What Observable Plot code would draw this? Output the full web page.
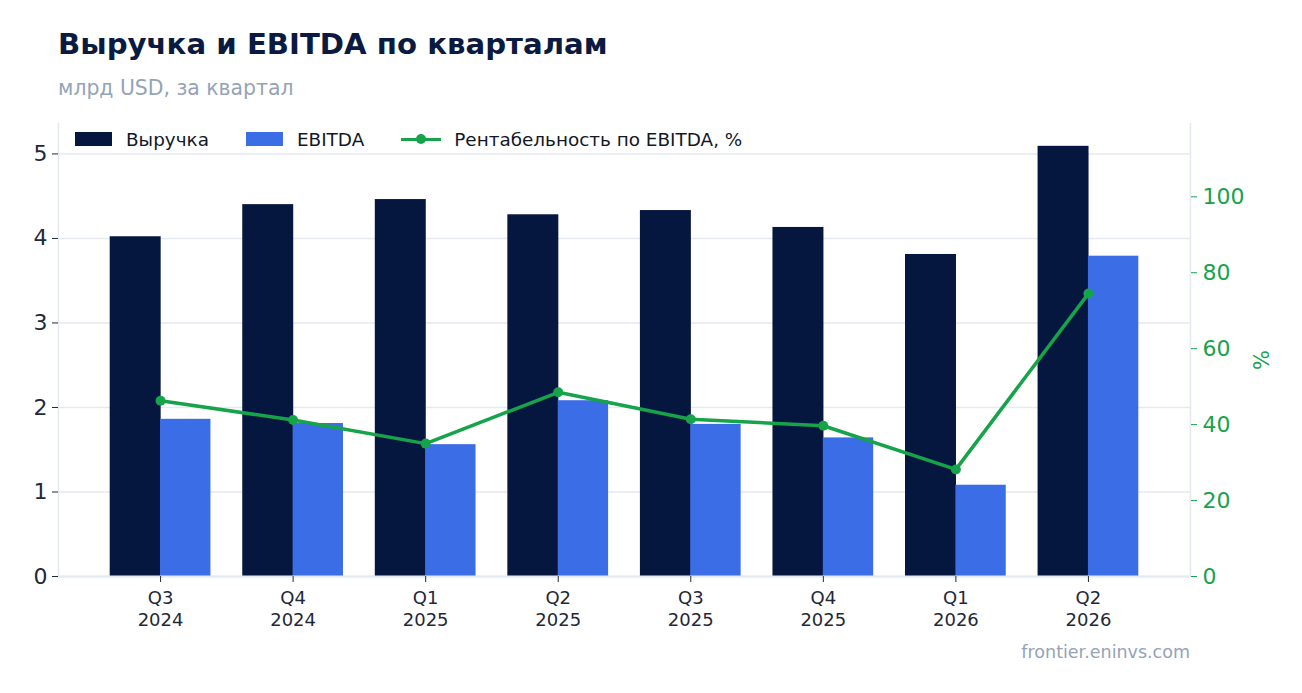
<!DOCTYPE html>
<html>
<head>
<meta charset="utf-8">
<script src="https://cdn.jsdelivr.net/npm/d3@7"></script>
<script src="https://cdn.jsdelivr.net/npm/@observablehq/plot@0.6"></script>
<style>
  html, body { margin: 0; padding: 0; background: #ffffff; }
  body { width: 1302px; height: 693px; position: relative; overflow: hidden; font-family: "DejaVu Sans", sans-serif; }
  #title { position: absolute; left: 58px; top: 26px; font-size: 29.2px; font-weight: bold; color: #0b1a40; line-height: 36px; white-space: nowrap; }
  #subtitle { position: absolute; left: 58px; top: 75px; font-size: 20.4px; color: #94a3b8; line-height: 26px; white-space: nowrap; }
  #chart { position: absolute; left: 0; top: 110px; }
  #legend { position: absolute; left: 75px; top: 127px; height: 24px; display: flex; align-items: center; font-size: 18.4px; color: #111827; white-space: nowrap; }
  .item { display: flex; align-items: center; margin-right: 37px; }
  .sw { width: 37px; height: 14px; margin-right: 14px; }
  .lsw { position: relative; width: 40px; height: 14px; margin-right: 13px; }
  .lsw .ln { position: absolute; left: 0; top: 5.5px; width: 40px; height: 3.5px; background: #16a34a; }
  .lsw .dt { position: absolute; left: 15px; top: 2px; width: 10px; height: 10px; border-radius: 50%; background: #16a34a; }
  #caption { position: absolute; right: 112px; top: 641px; font-size: 17.5px; color: #94a3b8; line-height: 22px; white-space: nowrap; }
</style>
</head>
<body>
<div id="title">Выручка и EBITDA по кварталам</div>
<div id="subtitle">млрд USD, за квартал</div>
<div id="chart"></div>
<div id="legend">
  <div class="item"><div class="sw" style="background:#06173f"></div><span>Выручка</span></div>
  <div class="item"><div class="sw" style="background:#3b6de6"></div><span>EBITDA</span></div>
  <div class="item"><div class="lsw"><div class="ln"></div><div class="dt"></div></div><span>Рентабельность по EBITDA, %</span></div>
</div>
<div id="caption">frontier.eninvs.com</div>
<script>
// Data
const quarters = ["Q3 2024", "Q4 2024", "Q1 2025", "Q2 2025", "Q3 2025", "Q4 2025", "Q1 2026", "Q2 2026"];
const revenue = [4.02, 4.40, 4.46, 4.28, 4.33, 4.13, 3.81, 5.09];
const ebitda = [1.86, 1.81, 1.56, 2.08, 1.80, 1.64, 1.08, 3.79];
const margin = [46.3, 41.2, 35.0, 48.5, 41.4, 39.7, 28.2, 74.5];
const leftTicks = [0, 1, 2, 3, 4, 5];
const rightTicks = [0, 20, 40, 60, 80, 100];

const data = quarters.map((q, i) => ({ q, revenue: revenue[i], ebitda: ebitda[i], margin: margin[i] }));

const W = 1302, H = 530;
const mL = 58, mR = 112, mT = 13, mB = 64;
const yMax = 5.36;
const pctMax = 119.3;
const k = yMax / pctMax; // map % onto left scale

const pInner = 0.24, pOuter = 0.39;
const step = (W - mL - mR) / (quarters.length - pInner + 2 * pOuter);
const half = step * (1 - pInner) / 2;

const navy = "#06173f", blue = "#3b6de6", green = "#16a34a", grid = "#e5e9f0";

const chart = Plot.plot({
  width: W,
  height: H,
  marginLeft: mL,
  marginRight: mR,
  marginTop: mT,
  marginBottom: mB,
  style: { fontFamily: "DejaVu Sans, sans-serif", background: "transparent" },
  x: { type: "band", domain: quarters, paddingInner: pInner, paddingOuter: pOuter, round: false, label: null },
  y: { domain: [0, yMax], label: null },
  marks: [
    Plot.gridY(leftTicks, { stroke: grid, strokeOpacity: 1, strokeWidth: 1.6 }),
    Plot.barY(data, { x: "q", y: "revenue", fill: navy, insetLeft: 0, insetRight: half - 0.6 }),
    Plot.barY(data, { x: "q", y: "ebitda", fill: blue, insetLeft: half, insetRight: 0 }),
    Plot.frame({ anchor: "left", stroke: grid, strokeWidth: 1.6 }),
    Plot.frame({ anchor: "right", stroke: grid, strokeWidth: 1.6 }),
    Plot.ruleY([0], { stroke: grid, strokeWidth: 2 }),
    Plot.line(data, { x: "q", y: d => d.margin * k, stroke: green, strokeWidth: 3.5 }),
    Plot.dot(data, { x: "q", y: d => d.margin * k, fill: green, r: 5 }),
    Plot.axisY(leftTicks, { anchor: "left", tickSize: 6, tickPadding: 5, fontSize: 22, color: "#1f2937", label: null, tickFormat: d => String(d) }),
    Plot.axisY(rightTicks.map(v => v * k), {
      anchor: "right", tickSize: 6, tickPadding: 6, fontSize: 22, color: green,
      tickFormat: d => String(Math.round(d / k)), label: null
    }),
    Plot.axisX({ anchor: "bottom", tickSize: 6, tickPadding: 6.5, fontSize: 18, color: "#1f2937", label: null,
      tickFormat: d => d.replace(" ", "\n"), lineHeight: 1.2 }),
    Plot.text(["%"], { frameAnchor: "right", dx: 72, rotate: -90, fill: green, fontSize: 21 })
  ]
});
document.getElementById("chart").appendChild(chart);
</script>
</body>
</html>
